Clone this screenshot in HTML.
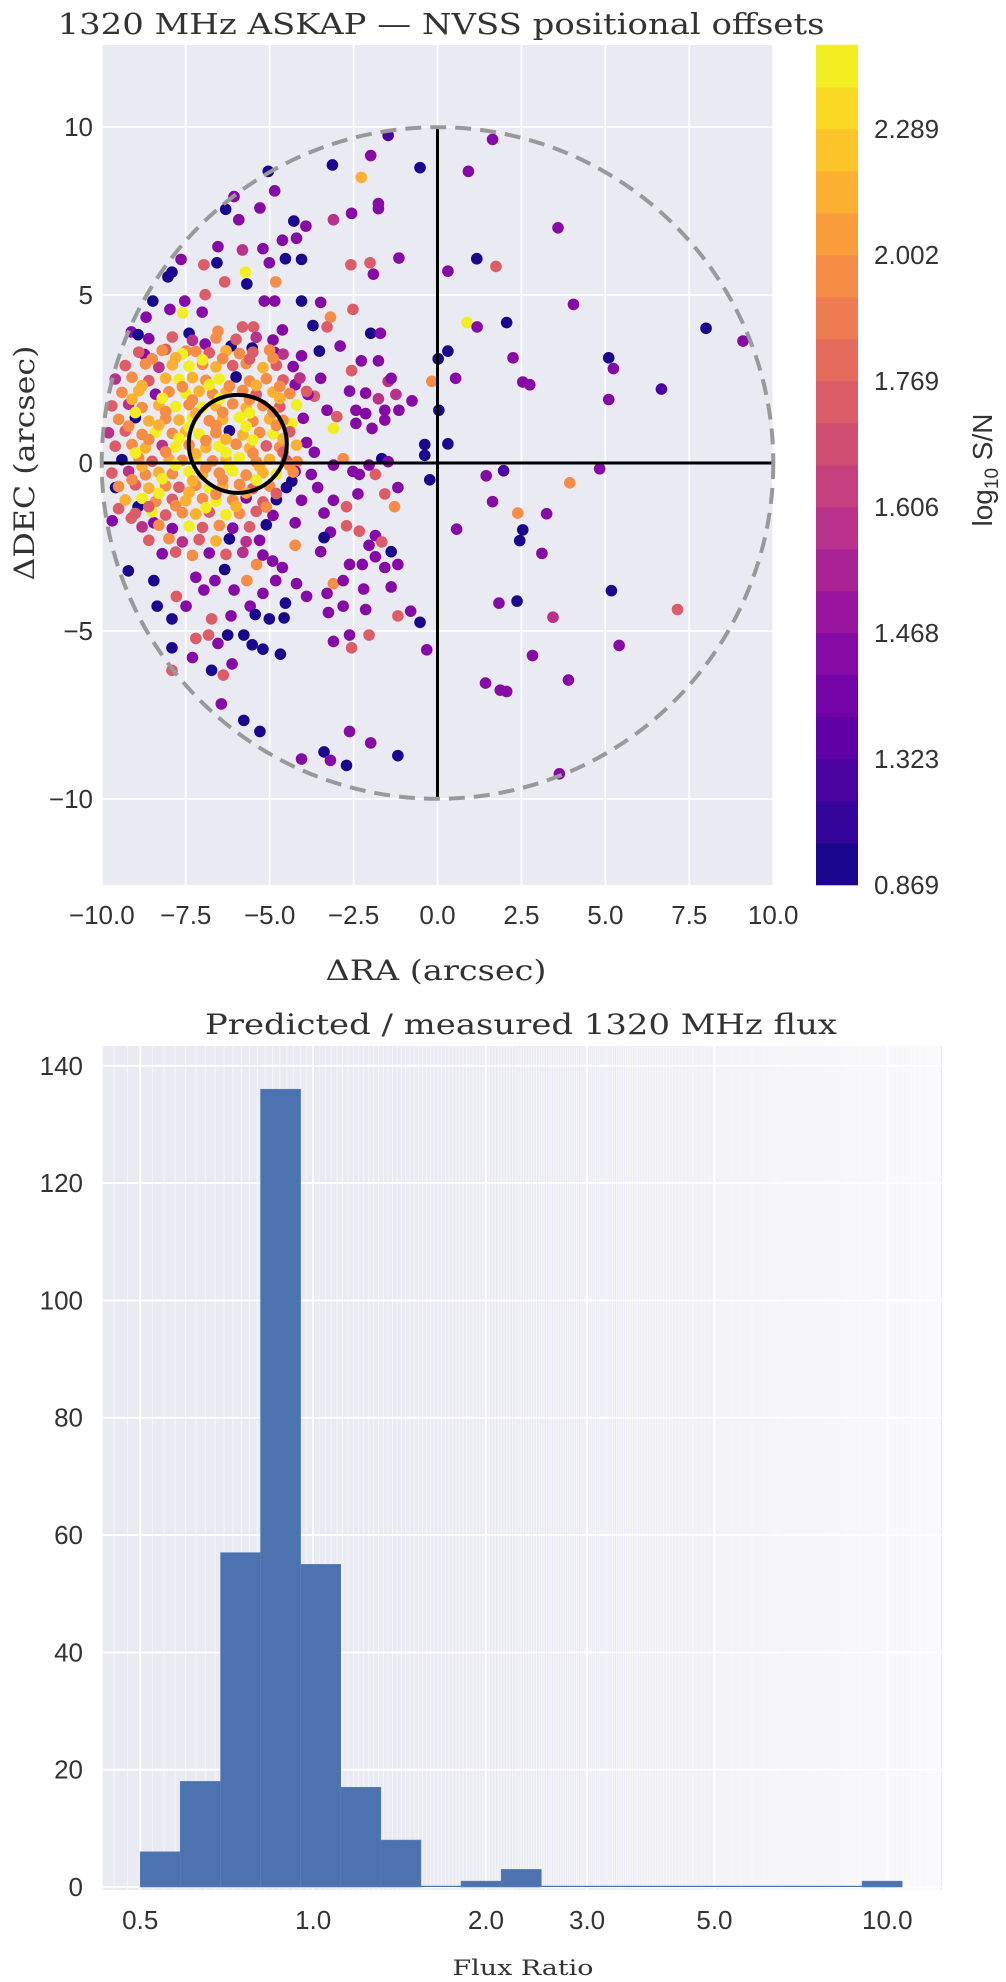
<!DOCTYPE html>
<html><head><meta charset="utf-8"><title>ASKAP NVSS offsets</title>
<style>
html,body{margin:0;padding:0;background:#fff;}
svg{display:block;}
.tick{font-family:"Liberation Sans",sans-serif;font-size:26px;fill:#333;}
.serif{font-family:"DejaVu Serif","Liberation Serif",serif;fill:#333;}
</style></head>
<body>
<svg id="fig" width="1006" height="1982" viewBox="0 0 1006 1982" xmlns="http://www.w3.org/2000/svg">
<text class="serif" x="441" y="34" text-anchor="middle" font-size="29" textLength="767" lengthAdjust="spacingAndGlyphs">1320 MHz ASKAP — NVSS positional offsets</text>
<text class="serif" x="436" y="980" text-anchor="middle" font-size="28" textLength="221" lengthAdjust="spacingAndGlyphs">ΔRA (arcsec)</text>
<text class="serif" x="0" y="0" text-anchor="middle" font-size="28" textLength="235" lengthAdjust="spacingAndGlyphs" transform="translate(34,463) rotate(-90)">ΔDEC (arcsec)</text>
<text x="0" y="0" text-anchor="middle" font-family="Liberation Sans, sans-serif" font-size="28" fill="#333" transform="translate(992,470) rotate(-90)">log<tspan font-size="19" dy="6">10</tspan><tspan dy="-6"> S/N</tspan></text>
<text class="serif" x="521" y="1034" text-anchor="middle" font-size="28" textLength="632" lengthAdjust="spacingAndGlyphs">Predicted / measured 1320 MHz flux</text>
<text class="serif" x="523" y="1975" text-anchor="middle" font-size="21" textLength="141" lengthAdjust="spacingAndGlyphs">Flux Ratio</text>
</svg>
<script>
// ---------- scatter data ----------
const raOffsets = [
-5.04,-4.85,-6.06,-6.31,-5.92,-5.29,-4.28,-4.20,-3.92,-4.62,-3.10,-2.56,-1.76,-1.76,-5.20,-5.81,-6.54,-5.01,-4.53,-4.05,-2.58,-2.01,-1.91,-1.15,-6.96,-7.64,-7.91,-8.03,-6.57,-6.34,-5.68,-5.72,-4.82,-5.16,-4.85,-4.05,-3.48,-2.52,-1.99,-1.70,-3.19,-3.29,-3.71,-4.62,-5.48,-5.81,-6.54,-7.01,-6.92,-7.53,-7.59,-7.97,-8.48,-8.68,-9.12,-8.92,-7.40,-6.92,-6.15,-5.52,-4.85,-4.05,-3.52,-2.90,-2.27,-2.56,-1.76,-1.47,-1.76,-1.24,-1.15,-0.76,-8.10,-8.73,-7.49,
-9.59,-9.50,-9.69,-8.92,-9.12,-8.45,-9.21,-8.45,-8.35,-7.91,-7.78,-7.49,-6.96,-7.20,-6.63,-6.34,-6.06,-5.68,-5.39,-4.91,-4.62,-4.82,-4.20,-4.53,-5.20,-5.58,-6.15,-6.73,-6.82,-7.20,-6.54,-6.25,-5.77,-5.52,-5.20,-4.68,-5.01,-5.43,-4.57,-3.90,-3.29,-3.10,-2.62,-2.81,-2.20,-2.24,-1.85,-1.57,-1.38,-2.14,-2.81,-3.25,-2.62,-3.10,-2.56,-2.04,-1.18,-0.80,-0.52,-0.32,-7.91,-7.30,-7.91,-6.73,-6.38,-6.12,-6.44,-5.77,-5.29,-4.05,-3.38,-3.19,-2.71,-2.62,-1.99,-1.18,
-3.90,-3.67,-4.18,-4.24,-3.76,-3.57,-4.05,-4.34,-3.10,-2.81,-2.52,-2.33,-2.04,-1.66,-1.85,-1.47,-1.18,-1.28,-1.57,-2.37,-2.71,-3.10,-3.38,-3.19,-2.71,-2.33,-1.85,-1.66,-2.04,-1.38,-4.24,-4.24,-3.48,-3.38,-1.18,-3.67,-3.29,-3.00,-3.10,-2.43,-2.14,-2.43,-1.95,-1.57,-1.57,-2.62,-2.14,-1.38,-3.48,-4.24,-3.86,-4.34,
-1.47,1.64,-0.52,0.92,-2.27,-3.13,-1.99,3.59,1.17,1.74,0.31,4.05,0.88,1.18,2.06,8.00,9.10,0.31,0.02,0.54,2.25,2.54,2.75,5.10,5.24,6.67,5.10,-0.17,0.04,0.31,-0.38,-0.38,-0.23,1.97,1.45,1.64,0.57,2.39,2.54,2.45,3.25,3.11,3.94,4.83,5.18,7.15,5.41,1.83,2.37,3.44,2.83,3.90,1.43,1.87,2.06,3.63,
-8.6,-7.9,-7.3,-6.6,-6.0,-5.4,-4.9,
-8.9,-8.2,-7.6,-7.2,-6.8,-6.3,-5.9,-5.5,-5.0,-4.6,
-9.3,-8.7,-8.3,-7.9,-7.4,-7.0,-6.6,-6.1,-5.7,-5.2,-4.8,-4.3,
-9.6,-9.1,-8.6,-8.1,-7.7,-7.3,-6.9,-6.5,-6.0,-5.6,-5.1,-4.6,-4.1,
-9.4,-8.9,-8.4,-8.0,-7.5,-7.1,-6.7,-6.3,-5.8,-5.4,-4.9,-4.4,-3.9,
-9.7,-9.2,-8.8,-8.3,-7.8,-7.4,-7.0,-6.6,-6.1,-5.7,-5.2,-4.7,-4.2,
-9.5,-9.0,-8.6,-8.1,-7.7,-7.3,-6.8,-6.4,-5.9,-5.5,-5.0,-4.6,-4.0,
-9.8,-9.3,-8.8,-8.4,-7.9,-7.5,-7.1,-6.6,-6.2,-5.8,-5.3,-4.9,-4.4,
-9.6,-9.1,-8.7,-8.2,-7.8,-7.4,-6.9,-6.5,-6.0,-5.6,-5.1,-4.7,-4.2,
-9.4,-8.9,-8.5,-8.0,-7.6,-7.2,-6.7,-6.3,-5.9,-5.4,-5.0,-4.5,
-9.7,-9.2,-8.7,-8.3,-7.9,-7.4,-7.0,-6.5,-6.1,-5.7,-5.2,-4.8,-4.3,
-9.5,-9.0,-8.6,-8.1,-7.7,-7.2,-6.8,-6.4,-5.9,-5.5,-5.0,-4.5,
-9.3,-8.8,-8.4,-7.9,-7.5,-7.0,-6.6,-6.1,-5.7,-5.2,-4.8,
-9.0,-8.5,-8.1,-7.6,-7.2,-6.8,-6.3,-5.9,-5.4,-4.9,
-8.8,-8.3,-7.9,-7.4,-7.0,-6.5,-6.1,-5.6,-5.1,
-8.6,-8.0,-7.6,-7.1,-6.6,-6.2,-5.7,-5.3,
-8.2,-7.8,-7.3,-6.8,-6.3,-5.8,-5.2,
-8.8,-7.6,-6.8,-6.2,-5.4,-4.7,
-9.0,-8.1,-7.2,-6.4,-5.6,-4.9,
-8.6,-7.7,-6.9,-6.3,-5.5,-4.6,
-8.8,-7.8,-6.9,-6.2,-5.3,-4.4,
-8.3,-7.4,-6.6,-5.7,-4.8,
-8.5,-7.8,-7.0,-6.4,-5.6,-4.9,
-9.1,-8.2,-7.3,-6.5,-5.6,-4.7,
-9.2,-8.3,-7.4,-6.6,-5.7,-4.8,
-9.0,-8.1,-7.2,-6.3,-5.5,-4.6,
-9.1,-8.2,-7.3,-6.4,-5.4,
-8.6,-7.8,-6.9,-6.0,-5.1
];
const decOffsets = [
8.68,8.10,7.93,7.55,7.24,7.59,7.20,6.69,7.05,6.63,7.24,7.43,7.72,7.57,6.38,6.34,6.44,5.96,6.08,6.06,5.90,5.96,5.62,6.10,5.90,6.06,5.68,5.54,5.96,5.39,5.33,5.68,5.39,4.82,4.82,4.82,4.78,4.57,3.86,3.86,4.34,4.05,4.09,3.96,4.05,4.05,3.92,4.49,5.01,4.82,4.47,4.57,4.82,4.34,3.90,3.82,3.86,3.54,3.48,3.42,3.29,3.19,3.33,3.48,3.04,2.75,3.04,2.43,1.91,2.04,1.57,1.85,3.38,3.23,3.33,
-0.73,-1.36,-1.72,-1.30,-1.64,-1.78,-3.21,-3.50,-4.26,-4.64,-3.97,-4.26,-3.78,-3.40,-3.50,-3.17,-3.78,-3.50,-3.02,-2.92,-3.11,-3.50,-3.59,-4.17,-3.88,-4.26,-4.55,-4.64,-5.12,-5.22,-5.37,-5.12,-5.12,-5.41,-5.54,-5.69,-4.64,-4.51,-4.61,-3.97,-3.88,-3.59,-3.02,-3.50,-3.75,-3.02,-2.79,-3.11,-3.69,-4.36,-4.26,-4.45,-5.12,-5.31,-5.50,-5.12,-4.55,-4.41,-4.74,-5.56,-5.50,-5.79,-6.17,-6.17,-6.31,-5.98,-7.17,-7.66,-7.99,-8.81,-8.60,-8.85,-9.00,-7.99,-8.33,-8.71,
0.61,0.32,0.04,-0.25,-0.34,-0.73,-1.11,-0.54,-0.06,0.13,-0.25,-0.34,-0.06,0.13,-0.34,0.04,-0.73,-1.30,-0.92,-0.92,-1.30,-1.11,-1.49,-2.06,-1.87,-2.03,-2.16,-2.35,-2.45,-2.64,-2.45,-1.78,-2.64,-2.22,-3.02,1.99,1.57,1.38,1.03,1.57,1.47,1.18,1.03,1.57,1.28,2.14,2.08,2.52,2.52,2.33,2.04,1.18,
9.75,9.63,8.79,8.68,8.50,8.87,9.15,7.00,6.08,5.85,5.71,4.72,4.18,4.05,4.18,4.01,3.63,3.33,3.10,2.52,3.13,2.41,2.33,3.13,2.81,2.20,1.89,2.43,1.57,0.57,0.55,0.23,-0.50,-0.23,-0.38,-1.15,-1.97,-1.49,-1.99,-2.31,-1.51,-2.69,-0.59,-0.17,-3.80,-4.36,-5.43,-4.17,-4.11,-4.59,-5.73,-6.46,-6.55,-6.76,-6.80,-9.25,
3.7,3.75,3.65,3.72,3.68,3.74,3.66,
3.3,3.35,3.25,3.32,3.28,3.34,3.26,3.3,3.36,3.24,
2.9,2.95,2.85,2.92,2.88,2.94,2.86,2.9,2.96,2.84,2.91,2.87,
2.5,2.55,2.45,2.52,2.48,2.54,2.46,2.5,2.56,2.44,2.51,2.47,2.53,
2.1,2.15,2.05,2.12,2.08,2.14,2.06,2.1,2.16,2.04,2.11,2.07,2.13,
1.7,1.75,1.65,1.72,1.68,1.74,1.66,1.7,1.76,1.64,1.71,1.67,1.73,
1.3,1.35,1.25,1.32,1.28,1.34,1.26,1.3,1.36,1.24,1.31,1.27,1.33,
0.9,0.95,0.85,0.92,0.88,0.94,0.86,0.9,0.96,0.84,0.91,0.87,0.93,
0.5,0.55,0.45,0.52,0.48,0.54,0.46,0.5,0.56,0.44,0.51,0.47,0.53,
0.1,0.15,0.05,0.12,0.08,0.14,0.06,0.1,0.16,0.04,0.11,0.07,
-0.3,-0.25,-0.35,-0.28,-0.32,-0.26,-0.34,-0.3,-0.24,-0.36,-0.29,-0.33,-0.27,
-0.7,-0.65,-0.75,-0.68,-0.72,-0.66,-0.74,-0.7,-0.64,-0.76,-0.69,-0.73,
-1.1,-1.05,-1.15,-1.08,-1.12,-1.06,-1.14,-1.1,-1.04,-1.16,-1.09,
-1.5,-1.45,-1.55,-1.48,-1.52,-1.46,-1.54,-1.5,-1.44,-1.56,
-1.9,-1.85,-1.95,-1.88,-1.92,-1.86,-1.94,-1.9,-1.84,
-2.3,-2.25,-2.35,-2.28,-2.32,-2.26,-2.34,-2.3,
-2.7,-2.65,-2.75,-2.68,-2.72,-2.66,-2.74,
2.3,2.27,2.33,2.29,2.31,2.28,
1.5,1.53,1.47,1.51,1.49,1.52,
0.7,0.73,0.67,0.71,0.69,0.72,
-0.1,-0.07,-0.13,-0.09,-0.11,-0.08,
-0.9,-0.87,-0.93,-0.89,-0.91,
3.1,3.13,3.07,3.11,3.09,3.12,
1.9,1.93,1.87,1.91,1.89,1.92,
1.1,1.13,1.07,1.11,1.09,1.12,
0.3,0.33,0.27,0.31,0.29,0.32,
-0.5,-0.47,-0.53,-0.49,-0.51,
-1.3,-1.27,-1.33,-1.29,-1.31
];
const logSN = [
1.0,1.45,1.45,1.0,1.45,1.45,1.0,1.45,1.45,1.45,1.58,1.45,1.45,1.45,1.45,1.58,1.45,1.45,1.0,1.0,1.72,1.72,1.45,1.45,1.72,1.45,1.0,1.0,1.0,1.72,1.0,2.4,1.95,1.45,1.45,1.0,1.45,1.72,1.0,1.45,1.95,1.72,1.0,1.45,1.72,1.72,1.95,1.45,1.72,1.45,2.4,1.45,1.0,1.45,1.45,1.0,1.0,1.45,1.0,1.0,1.45,1.45,1.0,1.45,1.45,1.72,1.45,1.58,1.58,1.58,1.45,1.45,1.72,1.45,1.95,
1.0,1.72,1.45,1.0,1.72,1.45,1.0,1.0,1.0,1.0,1.72,1.45,1.45,1.45,1.45,1.0,1.45,1.95,1.95,1.45,1.45,1.45,1.45,1.0,1.45,1.45,1.45,1.72,1.72,1.72,1.45,1.0,1.0,1.0,1.0,1.0,1.0,1.0,1.0,1.45,1.45,1.95,1.45,1.45,1.45,1.45,1.45,1.45,1.45,1.45,1.45,1.45,1.45,1.45,1.72,1.72,1.72,1.45,1.0,1.45,1.0,1.45,1.72,1.0,1.72,1.45,1.45,1.0,1.0,1.45,1.0,1.45,1.0,1.45,1.45,1.0,
1.45,1.45,1.95,1.45,1.45,1.45,1.45,1.0,1.45,1.95,1.45,1.45,1.45,1.0,1.72,1.45,1.45,1.95,1.72,1.45,1.72,1.45,1.45,1.45,1.72,1.72,1.45,1.72,1.45,1.0,1.95,1.45,1.45,1.0,1.45,1.72,1.45,1.72,2.4,1.45,1.45,1.45,1.45,1.45,1.45,1.45,1.45,1.45,1.45,1.45,1.45,2.4,
1.3,1.45,1.0,1.45,2.12,1.0,1.45,1.45,1.0,1.72,1.45,1.45,2.4,1.45,1.0,1.0,1.45,1.0,1.0,1.45,1.45,1.45,1.45,1.0,1.45,1.3,1.45,1.95,1.0,1.0,1.0,1.0,1.0,1.3,1.45,1.45,1.45,1.95,1.0,1.0,1.45,1.45,1.95,1.45,1.0,1.72,1.45,1.45,1.0,1.58,1.45,1.45,1.45,1.45,1.45,1.45,
1.45,1.72,1.58,1.95,1.72,1.58,1.45,
1.72,1.95,2.4,1.95,1.72,2.12,1.95,1.72,1.95,1.58,
1.72,1.95,1.58,2.12,2.4,1.95,2.12,1.72,1.95,2.12,1.72,1.45,
1.58,1.95,1.72,2.12,2.4,2.12,1.95,2.4,1.0,1.95,1.95,1.72,1.58,
1.95,2.12,1.45,1.95,2.4,2.12,1.95,2.12,1.95,1.72,2.12,1.95,1.72,
1.72,1.58,1.95,2.12,2.4,1.95,2.4,2.12,1.95,2.12,1.95,1.72,2.4,
1.95,1.0,2.12,1.95,2.12,2.4,1.95,2.12,2.4,1.95,2.12,1.95,1.45,
1.58,1.72,1.95,2.4,1.95,2.12,2.4,1.95,1.0,2.12,1.95,2.4,1.72,
1.72,1.95,2.12,1.58,2.4,1.95,2.12,2.4,1.95,2.12,1.72,1.95,2.12,
1.0,1.95,1.72,2.12,1.95,2.4,1.95,2.12,2.4,1.95,2.12,1.72,
1.72,1.58,1.95,2.12,1.95,2.4,2.12,1.95,2.4,1.95,2.12,2.4,1.95,
1.95,1.72,2.12,1.95,1.72,1.95,2.4,2.12,1.95,1.72,1.95,1.0,
2.12,2.4,1.95,1.72,2.12,1.95,2.4,1.95,1.45,1.72,1.0,
1.72,2.4,1.72,1.95,2.12,1.72,2.4,1.95,1.72,1.45,
1.58,1.95,1.45,2.4,1.72,1.95,1.45,1.72,1.0,
1.72,1.95,1.58,1.72,2.12,1.0,1.58,1.45,
1.45,1.72,1.95,1.45,1.72,1.58,1.45,
2.12,1.95,2.4,1.95,2.12,1.95,
2.4,1.95,2.12,1.95,2.4,1.95,
1.95,2.4,1.95,2.12,2.4,2.12,
2.12,2.4,1.95,2.4,2.12,1.95,
2.4,2.12,1.95,2.12,1.72,
1.95,2.12,2.4,1.95,1.72,1.95,
2.12,2.4,1.95,2.4,1.95,2.12,
1.95,2.12,2.4,1.95,2.4,1.95,
2.4,1.95,2.12,2.4,1.95,1.72,
1.95,2.4,2.12,1.95,2.4,
1.72,1.95,2.4,2.12,1.95
];
const xTickValues = [-10,-7.5,-5,-2.5,0,2.5,5,7.5,10];
const xTickLabels = ["\u221210.0","\u22127.5","\u22125.0","\u22122.5","0.0","2.5","5.0","7.5","10.0"];
const yTickValues = [-10,-5,0,5,10];
const yTickLabels = ["\u221210","\u22125","0","5","10"];
const cbarTickLabels = ["0.869","1.323","1.468","1.606","1.769","2.002","2.289"];
const cbarTickValues = [0.869,1.323,1.468,1.606,1.769,2.002,2.289];
const matchRadius = 10;
const meanOffsetRA = -5.95, meanOffsetDEC = 0.57, meanOffsetRadius = 1.46;

// ---------- histogram data ----------
const binEdges = [0.500,0.587,0.690,0.810,0.951,1.117,1.312,1.541,1.810,2.126,2.497,2.933,3.444,4.045,4.751,5.580,6.553,7.697,9.040,10.617];
const binCounts = [6,18,57,136,55,17,8,0,1,3,0,0,0,0,0,0,0,0,1];
const histXTickValues = [0.5,1,2,3,5,10];
const histXTickLabels = ["0.5","1.0","2.0","3.0","5.0","10.0"];
const histYTickValues = [0,20,40,60,80,100,120,140];

const NS = "http://www.w3.org/2000/svg";
const svg = document.getElementById('fig');
function mk(tag, attrs, parent){
  const e = document.createElementNS(NS, tag);
  for (const k in attrs) e.setAttribute(k, attrs[k]);
  (parent||svg).appendChild(e);
  return e;
}

// ---------- scatter axes ----------
const P = {l:102.6, r:774, t:45, b:885};
const sx = v => 437.5 + v*33.57;
const sy = v => 463 - v*33.6;
const bg = mk('rect',{x:P.l,y:P.t,width:P.r-P.l,height:P.b-P.t,fill:'#eaeaf2'});


const grid = mk('g',{stroke:'#fff','stroke-width':1.6});


xTickValues.forEach(v=>mk('line',{x1:sx(v),x2:sx(v),y1:P.t,y2:P.b},grid));
yTickValues.forEach(v=>mk('line',{x1:P.l,x2:P.r,y1:sy(v),y2:sy(v)},grid));

xTickValues.forEach((v,i)=>{
  const t = mk('text',{x:sx(v),y:924,'text-anchor':'middle','class':'tick'});
  t.textContent = xTickLabels[i];
  
  
});
yTickValues.forEach((v,i)=>{
  const t = mk('text',{x:93,y:sy(v)+9,'text-anchor':'end','class':'tick'});
  t.textContent = yTickLabels[i];
  
  
});

// plasma colormap
const plasmaStops = ['#0d0887','#41049d','#6a00a8','#8f0da4','#b12a90','#cc4778','#e16462','#f2844b','#fca636','#fcce25','#f0f921'];
function hex2rgb(h){return [parseInt(h.substr(1,2),16),parseInt(h.substr(3,2),16),parseInt(h.substr(5,2),16)];}
function plasma(t){
  t=Math.max(0,Math.min(1,t));
  const f=t*10, i=Math.min(9,Math.floor(f)), u=f-i;
  const a=hex2rgb(plasmaStops[i]), b=hex2rgb(plasmaStops[i+1]);
  return 'rgb('+a.map((c,k)=>Math.round(c+(b[k]-c)*u)).join(',')+')';
}
const nBands = 20;
function bandIndex(v){
  if (v<=cbarTickValues[0]) return 0;
  for (let i=0;i<cbarTickValues.length-1;i++){
    if (v<=cbarTickValues[i+1]) return Math.floor(i*3 + 3*(v-cbarTickValues[i])/(cbarTickValues[i+1]-cbarTickValues[i]));
  }
  const last = cbarTickValues.length-1;
  const step = (cbarTickValues[last]-cbarTickValues[last-1])/3;
  return Math.min(nBands-1, Math.floor(18 + (v-cbarTickValues[last])/step));
}
const colorOf = v => plasma((Math.min(nBands-1,bandIndex(v))+0.5)/nBands);

// points
const pts = mk('g',{});


const n = Math.min(raOffsets.length, decOffsets.length, logSN.length);
for (let i=0;i<n;i++){
  const c = mk('circle',{cx:sx(raOffsets[i]),cy:sy(decOffsets[i]),r:5.8,fill:colorOf(logSN[i])},pts);
  
  
}

// crosshair
const hLine = mk('line',{x1:sx(-matchRadius),x2:sx(matchRadius),y1:sy(0),y2:sy(0),stroke:'#000','stroke-width':3});


const vLine = mk('line',{x1:sx(0),x2:sx(0),y1:sy(-matchRadius),y2:sy(matchRadius),stroke:'#000','stroke-width':3});


const dc = mk('circle',{cx:sx(0),cy:sy(0),r:matchRadius*33.58,fill:'none',stroke:'#999','stroke-width':4,'stroke-dasharray':'16 9'});


const mc = mk('circle',{cx:sx(meanOffsetRA),cy:sy(meanOffsetDEC),r:meanOffsetRadius*33.58,fill:'none',stroke:'#000','stroke-width':4});



// colorbar
const cb = {x:816,w:42,t:45,b:885};
const cbg = mk('g',{});


const bh = (cb.b-cb.t)/nBands;
for (let i=0;i<nBands;i++){
  const r = mk('rect',{x:cb.x,y:cb.b-(i+1)*bh-0.3,width:cb.w,height:bh+0.6,fill:plasma((i+0.5)/nBands)},cbg);
  
  
}
cbarTickLabels.forEach((lab,i)=>{
  const t = mk('text',{x:874,y:cb.b - i*3*bh + 9,'class':'tick'});
  t.textContent = lab;
  
  
});

// ---------- histogram ----------
const H = {l:102.6, r:942, t:1046, b:1890};
const hx = v => 313.1 + 574.2*Math.log10(v);
const hy = c => 1887 - c*5.866;
const hbg = mk('rect',{x:H.l,y:H.t,width:H.r-H.l,height:H.b-H.t,fill:'#eaeaf2'});


const hminor = mk('g',{stroke:'#fff','stroke-width':1,'stroke-opacity':0.55});


for (let v=0.45; v<=12.4; v+=0.025){
  const x=hx(v); if (x<H.l||x>H.r) continue;
  mk('line',{x1:x,x2:x,y1:H.t,y2:H.b},hminor);
}
const hgrid = mk('g',{stroke:'#fff','stroke-width':1.8});


histXTickValues.forEach(v=>mk('line',{x1:hx(v),x2:hx(v),y1:H.t,y2:H.b},hgrid));
histYTickValues.forEach(v=>mk('line',{x1:H.l,x2:H.r,y1:hy(v),y2:hy(v)},hgrid));

const bars = mk('g',{});


binCounts.forEach((c,i)=>{
  const x0=hx(binEdges[i]), x1=hx(binEdges[i+1]);
  const h = Math.max(c*5.866, 1.2);
  const r = mk('rect',{x:x0,y:hy(0)-h,width:x1-x0,height:h,fill:'#4c72b0',stroke:c>0?'#5a7fb8':'none','stroke-width':0.6},bars);
  
  
});

histXTickValues.forEach((v,i)=>{
  const t = mk('text',{x:hx(v),y:1929,'text-anchor':'middle','class':'tick','font-family':'DejaVu Sans, sans-serif','font-size':'25'});
  t.textContent = histXTickLabels[i];
  
  
});
histYTickValues.forEach(v=>{
  const t = mk('text',{x:83,y:hy(v)+9,'text-anchor':'end','class':'tick'});
  t.textContent = String(v);
  
  
});
</script>
</body></html>
